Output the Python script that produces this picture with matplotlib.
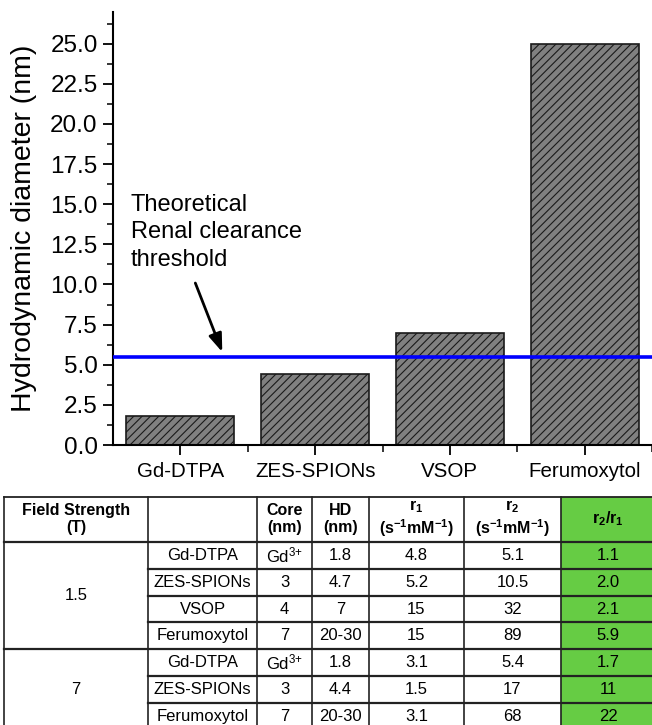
import matplotlib.pyplot as plt
from matplotlib.ticker import MultipleLocator, FixedLocator

plt.rcParams['font.family'] = ['Liberation Sans', 'DejaVu Sans']
plt.rcParams['mathtext.fontset'] = 'custom'
plt.rcParams['mathtext.rm'] = 'Liberation Sans'
plt.rcParams['mathtext.it'] = 'Liberation Sans:italic'
plt.rcParams['mathtext.bf'] = 'Liberation Sans:bold'
plt.rcParams['hatch.linewidth'] = 0.8
plt.rcParams['hatch.color'] = '#1a1a1a'

# bar chart data
agents = ["Gd-DTPA", "ZES-SPIONs", "VSOP", "Ferumoxytol"]
hd_nm = [1.8, 4.4, 7.0, 25.0]
renal_threshold = 5.5

# table data
table_header = ["Field Strength\n(T)", "", "Core\n(nm)", "HD\n(nm)",
                "r$_\\mathbf{1}$\n(s$^{\\mathbf{{-}1}}$mM$^{\\mathbf{{-}1}}$)",
                "r$_\\mathbf{2}$\n(s$^{\\mathbf{{-}1}}$mM$^{\\mathbf{{-}1}}$)",
                "r$_\\mathbf{2}$/r$_\\mathbf{1}$"]
field_groups = [("1.5", 4), ("7", 3)]
tbl_agent = ["Gd-DTPA", "ZES-SPIONs", "VSOP", "Ferumoxytol",
             "Gd-DTPA", "ZES-SPIONs", "Ferumoxytol"]
tbl_core = ["Gd$^{3{+}}$", "3", "4", "7", "Gd$^{3{+}}$", "3", "7"]
tbl_hd = ["1.8", "4.7", "7", "20-30", "1.8", "4.4", "20-30"]
tbl_r1 = ["4.8", "5.2", "15", "15", "3.1", "1.5", "3.1"]
tbl_r2 = ["5.1", "10.5", "32", "89", "5.4", "17", "68"]
tbl_ratio = ["1.1", "2.0", "2.1", "5.9", "1.7", "11", "22"]

W, H = 652, 725
fig = plt.figure(figsize=(W / 100, H / 100), dpi=100)

# ---- bar chart ----
ax = fig.add_axes([113 / W, 1 - 445 / H, 1 - 113 / W, (445 - 11.6) / H])
x = list(range(1, len(agents) + 1))
ax.bar(x, hd_nm, width=0.8, color='#808080', edgecolor='#1a1a1a',
       linewidth=1.2, hatch='////', zorder=2)
ax.axhline(renal_threshold, color='#0000ff', lw=2.6, zorder=3)
ax.set_xlim(0.5, 4.5)
ax.set_ylim(0, 27)
ax.yaxis.set_minor_locator(MultipleLocator(1.25))
ax.set_yticks([v * 2.5 for v in range(11)])
ax.set_yticklabels([f"{v * 2.5:.1f}" for v in range(11)])
ax.set_xticks(x)
ax.set_xticklabels(agents)
ax.xaxis.set_minor_locator(FixedLocator([1.5, 2.5, 3.5, 4.5]))
for s in ['top', 'right']:
    ax.spines[s].set_visible(False)
for s in ['left', 'bottom']:
    ax.spines[s].set_linewidth(1.5)
ax.tick_params(axis='y', which='major', length=7, width=1.3, labelsize=17.5, pad=4)
ax.tick_params(axis='y', which='minor', length=4, width=1.1)
ax.tick_params(axis='x', which='major', length=7, width=1.3, labelsize=14.8, pad=5)
ax.tick_params(axis='x', which='minor', length=5, width=1.1)
fig.text(24 / W, 1 - 228.5 / H, "Hydrodynamic diameter (nm)", rotation=90,
         ha='center', va='center', fontsize=20.5)

ax.text(0.63, 15.65, "Theoretical\nRenal clearance\nthreshold", fontsize=17,
        ha='left', va='top', linespacing=1.32)
ax.annotate("", xy=(1.311, 5.79), xytext=(1.111, 10.09),
            arrowprops=dict(arrowstyle='-|>,head_length=1.1,head_width=0.4',
                            color='black', lw=2, shrinkA=0, shrinkB=0))

# ---- table ----
tx = fig.add_axes([0, 0, 1, 1])
tx.set_xlim(0, W)
tx.set_ylim(H, 0)
tx.axis('off')

col_edges = [4, 148, 257, 312, 369, 464, 561, 655]
top, head_bot, row_h = 497, 542, 26.8
n_rows = len(tbl_agent)
bottom = head_bot + row_h * n_rows

tx.fill_between([col_edges[6], col_edges[7]], top, bottom, color='#66cc44', zorder=0)

lc = '#222222'
tx.plot([col_edges[0], W], [top, top], color=lc, lw=1.3)
tx.plot([col_edges[0], W], [head_bot, head_bot], color=lc, lw=1.6)
r = 0
for label, n in field_groups:
    y0 = head_bot + row_h * r
    y1 = head_bot + row_h * (r + n)
    tx.text((col_edges[0] + col_edges[1]) / 2, (y0 + y1) / 2, label,
            fontsize=12, ha='center', va='center')
    if r > 0:
        tx.plot([col_edges[0], W], [y0, y0], color=lc, lw=1.6)
    for k in range(1, n):
        yy = y0 + row_h * k
        tx.plot([col_edges[1], W], [yy, yy], color=lc, lw=1.6)
    r += n
for xe in col_edges[:-1]:
    tx.plot([xe, xe], [top, H + 5], color=lc, lw=1.2)

centers = [(col_edges[i] + col_edges[i + 1]) / 2 for i in range(7)]
centers[6] = 608
for i, h in enumerate(table_header):
    tx.text(centers[i], 519, h, fontsize=11.5, fontweight='bold',
            ha='center', va='center', linespacing=1.15)
for j in range(n_rows):
    yc = head_bot + row_h * (j + 0.5)
    vals = [tbl_agent[j], tbl_core[j], tbl_hd[j], tbl_r1[j], tbl_r2[j], tbl_ratio[j]]
    for i, v in enumerate(vals):
        tx.text(centers[i + 1], yc, v, fontsize=12, ha='center', va='center')

fig.savefig("out.png", dpi=100)
